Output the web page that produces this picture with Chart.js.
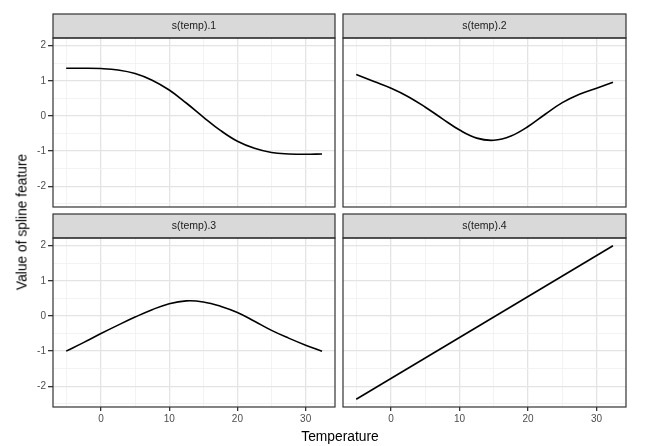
<!DOCTYPE html>
<html>
<head>
<meta charset="utf-8">
<script src="https://cdn.jsdelivr.net/npm/chart.js@4/dist/chart.umd.min.js"></script>
<style>
  html, body { margin: 0; padding: 0; background: #fff; }
  #wrap { position: relative; width: 654px; height: 446px; overflow: hidden; font-family: 'Liberation Sans', Arial, sans-serif; }
  #wrap canvas { position: absolute; }
  .ttl { position: absolute; font-size: 13.8px; color: #000; white-space: nowrap; }
  #ytitle { left: 22px; top: 222px; transform: translate(-50%, -50%) rotate(-90deg); }
  #xtitle { left: 340px; top: 436px; transform: translate(-50%, -50%); }
</style>
</head>
<body>
<div id="wrap">
  <canvas id="p1" width="339" height="210" style="left:0;top:0"></canvas>
  <canvas id="p2" width="291" height="210" style="left:339px;top:0"></canvas>
  <canvas id="p3" width="339" height="236" style="left:0;top:210px"></canvas>
  <canvas id="p4" width="291" height="236" style="left:339px;top:210px"></canvas>
  <div class="ttl" id="ytitle">Value of spline feature</div>
  <div class="ttl" id="xtitle">Temperature</div>
</div>
<script>
'use strict';

// facet titles
const panels = ['s(temp).1', 's(temp).2', 's(temp).3', 's(temp).4'];

// temperatures the curves are read at
const temps = [-5.1, -2.5, 0, 2.5, 5, 7.5, 10, 12.5, 15, 17.5, 20, 22.5, 25, 27.5, 30, 32.4];
const spline1 = [1.36, 1.36, 1.35, 1.31, 1.21, 1.02, 0.74, 0.37, -0.03, -0.41, -0.72, -0.92, -1.04, -1.08, -1.09, -1.08];
const spline2 = [1.18, 0.98, 0.79, 0.55, 0.25, -0.08, -0.40, -0.63, -0.69, -0.57, -0.30, 0.05, 0.38, 0.62, 0.79, 0.96];
const spline3 = [-1.00, -0.75, -0.50, -0.26, -0.03, 0.18, 0.35, 0.43, 0.40, 0.28, 0.10, -0.15, -0.41, -0.63, -0.83, -1.00];
// last one is a straight line
const temps4 = [-5.1, 32.4];
const spline4 = [-2.37, 2.0];

// axis breaks
const xBreaks = [-5, 0, 5, 10, 15, 20, 25, 30];
const xLabels = [0, 10, 20, 30];
const yBreaks = [-2.5, -2, -1.5, -1, -0.5, 0, 0.5, 1, 1.5, 2];
const yLabels = [-2, -1, 0, 1, 2];

const FONT = "'Liberation Sans', Arial, sans-serif";

const facetFrame = {
  id: 'facetFrame',
  afterDraw(chart, args, opts) {
    const {ctx, chartArea: a} = chart;
    ctx.save();
    // strip
    ctx.fillStyle = '#d9d9d9';
    ctx.fillRect(a.left, a.top - 24, a.right - a.left, 24);
    ctx.strokeStyle = '#333333';
    ctx.lineWidth = 1.2;
    ctx.strokeRect(a.left, a.top - 24, a.right - a.left, 24);
    ctx.fillStyle = '#1a1a1a';
    ctx.font = '10.5px ' + FONT;
    ctx.textAlign = 'center';
    ctx.textBaseline = 'middle';
    ctx.fillText(opts.title, (a.left + a.right) / 2, a.top - 12);
    // panel border
    ctx.strokeRect(a.left, a.top, a.right - a.left, a.bottom - a.top);
    ctx.restore();
  }
};

const isMajor = c => c.tick && c.tick.major;

const createPanel = (id, title, xs, ys, showX, showY) => {
  const ctx = document.getElementById(id).getContext('2d');
  const pts = xs.map((x, i) => ({x, y: ys[i]}));
  new Chart(ctx, {
    type: 'line',
    data: {
      datasets: [{
        data: pts,
        borderColor: '#000',
        borderWidth: 1.6,
        pointRadius: 0,
        tension: 0.4,
        fill: false
      }]
    },
    options: {
      responsive: false,
      animation: false,
      devicePixelRatio: 1,
      layout: {
        padding: {top: showX ? 28 : 38, right: 4, bottom: showX ? 19 : 3, left: showY ? 0 : 4}
      },
      plugins: {
        legend: {display: false},
        tooltip: {enabled: false},
        facetFrame: {title}
      },
      scales: {
        x: {
          type: 'linear',
          min: -7.03,
          max: 34.3,
          border: {display: false},
          afterBuildTicks: s => { s.ticks = xBreaks.map(v => ({value: v, major: xLabels.includes(v)})); },
          afterFit: s => {
            s.height = showX ? 20 : 0;
            s.paddingLeft = 0;
            s.paddingRight = 0;
          },
          grid: {
            color: c => isMajor(c) ? '#e4e4e4' : '#f0f0f0',
            lineWidth: c => isMajor(c) ? 1.3 : 0.8,
            drawTicks: showX,
            tickLength: 4,
            tickColor: c => isMajor(c) ? '#333333' : 'rgba(0,0,0,0)'
          },
          ticks: {
            display: showX,
            autoSkip: false,
            maxRotation: 0,
            padding: 2,
            color: '#4d4d4d',
            font: {family: FONT, size: 10},
            callback: v => xLabels.includes(v) ? String(v) : ''
          }
        },
        y: {
          type: 'linear',
          min: -2.59,
          max: 2.22,
          border: {display: false},
          afterBuildTicks: s => { s.ticks = yBreaks.map(v => ({value: v, major: yLabels.includes(v)})); },
          afterFit: s => {
            s.width = showY ? 53 : 0;
            s.paddingTop = 0;
            s.paddingBottom = 0;
          },
          grid: {
            color: c => isMajor(c) ? '#e4e4e4' : '#f0f0f0',
            lineWidth: c => isMajor(c) ? 1.3 : 0.8,
            drawTicks: showY,
            tickLength: 5,
            tickColor: c => isMajor(c) ? '#333333' : 'rgba(0,0,0,0)'
          },
          ticks: {
            display: showY,
            autoSkip: false,
            padding: 2,
            color: '#4d4d4d',
            font: {family: FONT, size: 10},
            callback: v => yLabels.includes(v) ? String(v) : ''
          }
        }
      }
    },
    plugins: [facetFrame]
  });
};

createPanel('p1', panels[0], temps, spline1, false, true);
createPanel('p2', panels[1], temps, spline2, false, false);
createPanel('p3', panels[2], temps, spline3, true, true);
createPanel('p4', panels[3], temps4, spline4, true, false);
</script>
</body>
</html>
